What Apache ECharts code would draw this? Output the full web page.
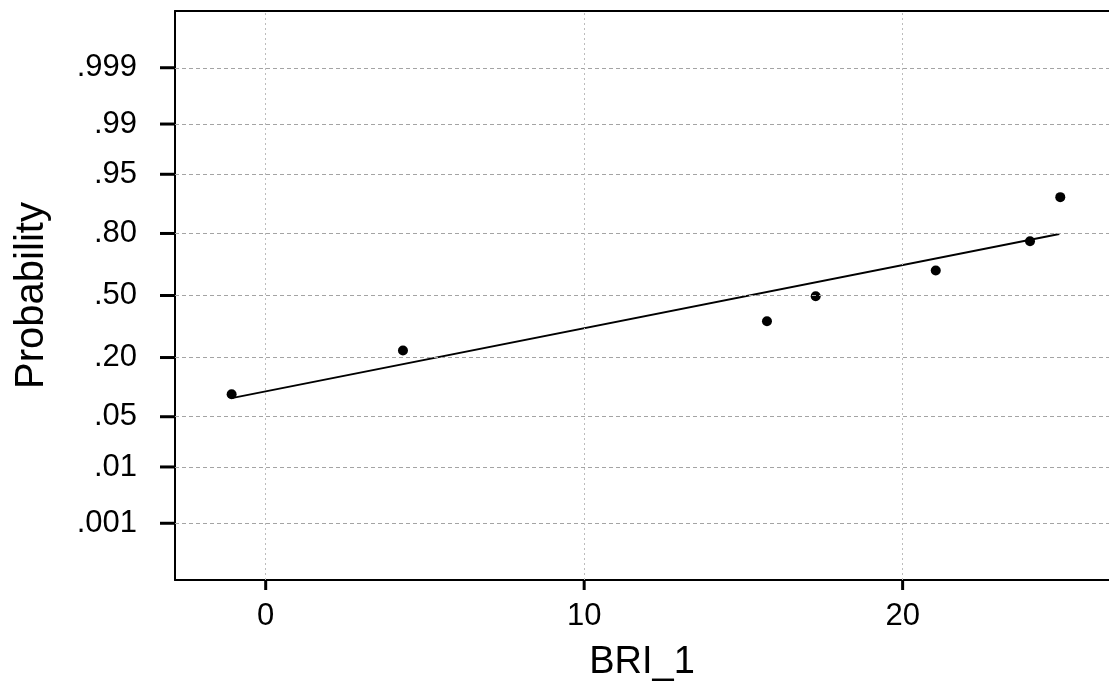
<!DOCTYPE html>
<html>
<head>
<meta charset="utf-8">
<style>
  html, body { margin: 0; padding: 0; background: #fff; }
  #chart { width: 1109px; height: 694px; }
</style>
<script src="https://cdn.jsdelivr.net/npm/echarts@6/dist/echarts.min.js"></script>
</head>
<body>
<div id="chart"></div>
<script>
// ---- data ----
const xValues = [-1.07, 4.31, 15.74, 17.27, 21.04, 24.0, 24.95];
const probValues = [0.090, 0.228, 0.363, 0.496, 0.633, 0.769, 0.909];
const fitX = [-1.07, 24.92];
const fitProb = [0.082, 0.798];
const yTickProbs = [0.999, 0.99, 0.95, 0.80, 0.50, 0.20, 0.05, 0.01, 0.001];
const yTickLabels = ['.999', '.99', '.95', '.80', '.50', '.20', '.05', '.01', '.001'];
const xTicks = [0, 10, 20];

// normal probability scale (inverse normal CDF, Acklam)
function probit(p) {
  const a = [-3.969683028665376e+01, 2.209460984245205e+02, -2.759285104469687e+02, 1.383577518672690e+02, -3.066479806614716e+01, 2.506628277459239e+00];
  const b = [-5.447609879822406e+01, 1.615858368580409e+02, -1.556989798598866e+02, 6.680131188771972e+01, -1.328068155288572e+01];
  const c = [-7.784894002430293e-03, -3.223964580411365e-01, -2.400758277161838e+00, -2.549732539343734e+00, 4.374664141464968e+00, 2.938163982698783e+00];
  const d = [7.784695709041462e-03, 3.224671290700398e-01, 2.445134137142996e+00, 3.754408661907416e+00];
  const pl = 0.02425, ph = 1 - pl;
  let q, r;
  if (p < pl) {
    q = Math.sqrt(-2 * Math.log(p));
    return (((((c[0]*q+c[1])*q+c[2])*q+c[3])*q+c[4])*q+c[5]) / ((((d[0]*q+d[1])*q+d[2])*q+d[3])*q+1);
  } else if (p <= ph) {
    q = p - 0.5; r = q * q;
    return (((((a[0]*r+a[1])*r+a[2])*r+a[3])*r+a[4])*r+a[5])*q / (((((b[0]*r+b[1])*r+b[2])*r+b[3])*r+b[4])*r+1);
  } else {
    q = Math.sqrt(-2 * Math.log(1 - p));
    return -(((((c[0]*q+c[1])*q+c[2])*q+c[3])*q+c[4])*q+c[5]) / ((((d[0]*q+d[1])*q+d[2])*q+d[3])*q+1);
  }
}

const yTickZ = yTickProbs.map(probit);
const points = xValues.map((x, i) => [x, probit(probValues[i])]);
const fitLine = fitX.map((x, i) => [x, probit(fitProb[i])]);

function labelForZ(v) {
  let best = 0, bd = Infinity;
  yTickZ.forEach((z, i) => { const dd = Math.abs(z - v); if (dd < bd) { bd = dd; best = i; } });
  return yTickLabels[best];
}

const FONT = '"Liberation Sans", Arial, Helvetica, sans-serif';
const X_MIN = -2.848, X_MAX = 26.48, Y_MIN = -3.86, Y_MAX = 3.86;

const chart = echarts.init(document.getElementById('chart'), null, { renderer: 'canvas' });
chart.setOption({
  animation: false,
  backgroundColor: '#ffffff',
  grid: { left: 175, top: 11, right: 0, bottom: 114, show: false },
  xAxis: [{
    type: 'value',
    min: X_MIN, max: X_MAX,
    name: 'BRI_1',
    nameLocation: 'middle',
    nameGap: 64,
    nameTextStyle: { fontFamily: FONT, fontSize: 38, color: '#000' },
    axisLine: { show: true, onZero: false, lineStyle: { color: '#000', width: 2 } },
    axisTick: { show: false },
    axisLabel: { show: true, customValues: xTicks, margin: 21, fontFamily: FONT, fontSize: 31, color: '#000' },
    splitLine: { show: false }
  }, {
    type: 'value',
    position: 'top',
    min: X_MIN, max: X_MAX,
    axisLine: { show: true, onZero: false, lineStyle: { color: '#000', width: 2 } },
    axisTick: { show: false },
    axisLabel: { show: false },
    splitLine: { show: false }
  }],
  yAxis: {
    type: 'value',
    min: Y_MIN, max: Y_MAX,
    name: 'Probability',
    nameLocation: 'middle',
    nameGap: 123,
    nameTextStyle: { fontFamily: FONT, fontSize: 40, color: '#000' },
    axisLine: { show: true, onZero: false, lineStyle: { color: '#000', width: 2 } },
    axisTick: { show: false },
    axisLabel: { show: true, customValues: yTickZ, margin: 38, fontFamily: FONT, fontSize: 31, color: '#000',
      formatter: function (v) { return labelForZ(v); } },
    splitLine: { show: false }
  },
  series: [
    {
      type: 'line',
      data: fitLine,
      showSymbol: false,
      symbol: 'none',
      lineStyle: { color: '#000', width: 1.8 },
      silent: true,
      z: 3,
      markLine: {
        silent: true,
        symbol: ['none', 'none'],
        label: { show: false },
        animation: false,
        data: yTickZ.map(z => ({ yAxis: z, lineStyle: { color: '#a4a4a4', width: 1, type: [4, 3] } }))
          .concat(xTicks.map(x => ({ xAxis: x, lineStyle: { color: '#bcbcbc', width: 1, type: [2, 3] } })))
      }
    },
    {
      type: 'scatter',
      data: points,
      symbol: 'circle',
      symbolSize: 10,
      itemStyle: { color: '#000', opacity: 1 },
      z: 4
    },
    {
      // outward y-axis tick marks
      type: 'custom',
      silent: true,
      clip: false,
      z: 10,
      data: yTickZ.map(z => [X_MIN, z]),
      renderItem: function (params, api) {
        const p = api.coord([api.value(0), api.value(1)]);
        return { type: 'rect', shape: { x: p[0] - 15, y: p[1] - 1.5, width: 15, height: 3 },
          style: { fill: '#000' } };
      }
    },
    {
      // outward x-axis tick marks
      type: 'custom',
      silent: true,
      clip: false,
      z: 10,
      data: xTicks.map(x => [x, Y_MIN]),
      renderItem: function (params, api) {
        const p = api.coord([api.value(0), api.value(1)]);
        return { type: 'rect', shape: { x: p[0] - 1.5, y: p[1], width: 3, height: 10 },
          style: { fill: '#000' } };
      }
    }
  ]
});
</script>
</body>
</html>
